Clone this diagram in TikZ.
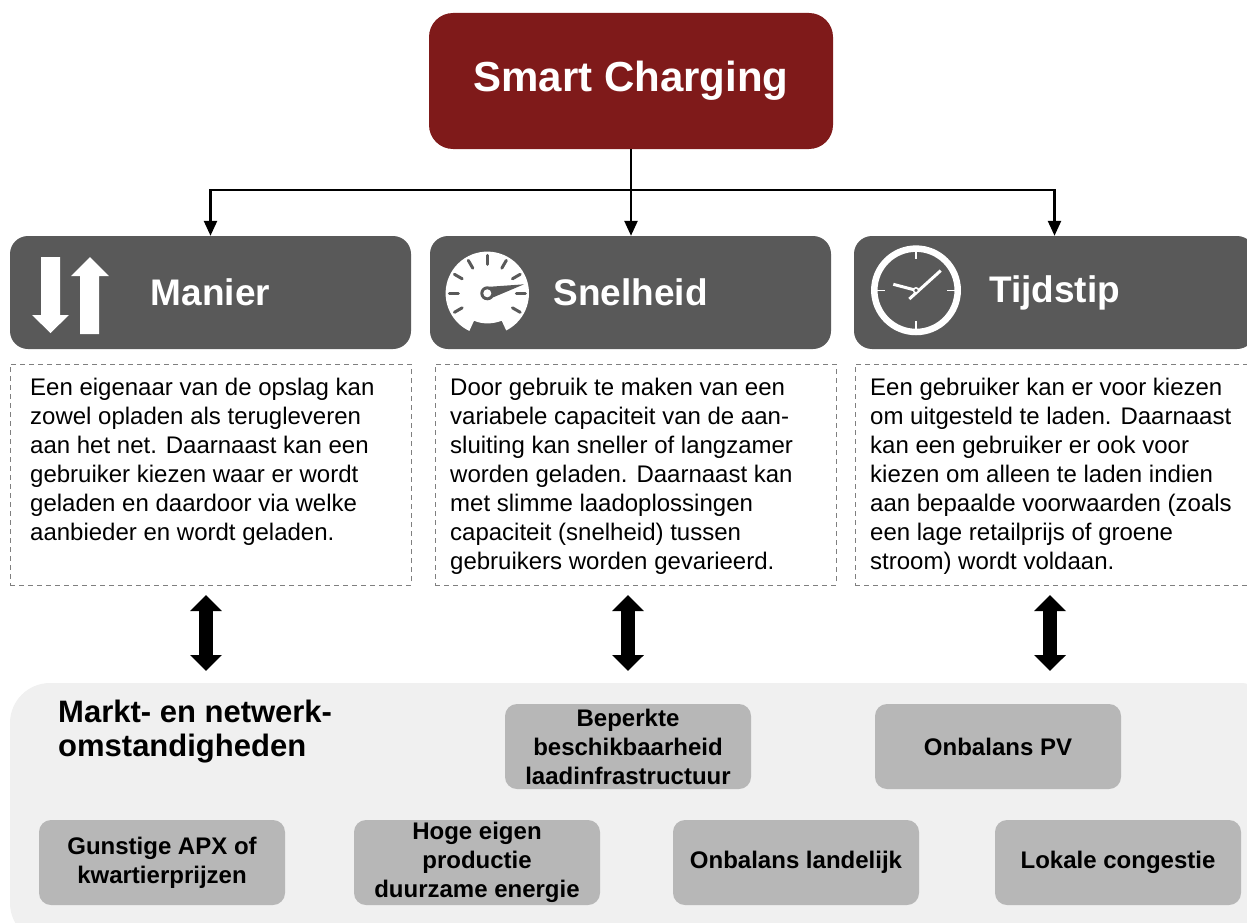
\documentclass[tikz,border=0pt]{standalone}
\usepackage{fontspec}
\setmainfont{Liberation Sans}
\usetikzlibrary{arrows.meta}
\definecolor{donkerrood}{HTML}{7F1A1A}
\definecolor{kopgrijs}{HTML}{595959}
\definecolor{lijngrijs}{HTML}{7F7F7F}
\definecolor{paneelgrijs}{HTML}{F0F0F0}
\definecolor{vakgrijs}{HTML}{B7B7B7}
\tikzset{
  hoofdvak/.style={fill=donkerrood, rounded corners=24pt, minimum width=404pt, minimum height=136pt,
    text=white, font=\fontsize{42}{50}\selectfont\bfseries},
  kopvak/.style={fill=kopgrijs, rounded corners=18pt, minimum width=401pt, minimum height=113pt,
    text=white, font=\fontsize{37}{44}\selectfont\bfseries},
  uitlegvak/.style={draw=lijngrijs, line width=1pt, dash pattern=on 5pt off 4pt, minimum width=401pt, minimum height=221pt},
  uitlegtekst/.style={anchor=north west, inner sep=0pt, align=left, font=\fontsize{24}{29}\selectfont},
  factorvak/.style={fill=vakgrijs, rounded corners=12pt, minimum width=246pt, minimum height=85pt,
    inner sep=0pt, align=center, font=\fontsize{24}{29}\selectfont\bfseries},
  tak/.style={line width=2.5pt, -{Triangle[width=13pt,length=15pt]}},
  dubbel/.style={line width=14pt, {Triangle[width=31pt,length=16pt]}-{Triangle[width=31pt,length=16pt]}}
}
\begin{document}
\begin{tikzpicture}[x=1pt, y=-1pt]
        \useasboundingbox (0,0) rectangle (1247,923);
        \clip (0,0) rectangle (1247,923);
        % Top box
        \node[hoofdvak] (titel) at (631,81) {Smart Charging};
        % Header boxes
        \foreach \naam/\x/\tekst in {manier/210.5/Manier, snelheid/630.5/Snelheid, tijdstip/1054.5/Tijdstip} {
            \node[kopvak] (\naam) at (\x,292.5) {\tekst};
        }
        % Connectors from the top box
        \coordinate (splitsing) at (titel.south |- 0,190);
        \draw[line width=2.5pt] (titel.south) -- (splitsing);
        \draw[tak] (splitsing) -| (manier.north);
        \draw[tak] (splitsing) -| (tijdstip.north);
        \draw[tak] (titel.south) -- (titel.south |- snelheid.north);
        % Dashed boxes and their texts
        \node[uitlegvak] (manieruitleg) at (210.5,474.5) {};
        \node[uitlegvak] (snelheiduitleg) at (635.5,474.5) {};
        \node[uitlegvak] (tijdstipuitleg) at (1055.5,474.5) {};
        \node[uitlegtekst] (manierinhoud) at (30,378) {Een eigenaar van de opslag kan\\zowel opladen als terugleveren\\aan het net. Daarnaast kan een\\gebruiker kiezen waar er wordt\\geladen en daardoor via welke\\aanbieder en wordt geladen.};
        \node[uitlegtekst] (snelheidinhoud) at (450,378) {Door gebruik te maken van een\\variabele capaciteit van de aan-\\sluiting kan sneller of langzamer\\worden geladen. Daarnaast kan\\met slimme laadoplossingen\\capaciteit (snelheid) tussen\\gebruikers worden gevarieerd.};
        \node[uitlegtekst] (tijdstipinhoud) at (870,378) {Een gebruiker kan er voor kiezen\\om uitgesteld te laden. Daarnaast\\kan een gebruiker er ook voor\\kiezen om alleen te laden indien\\aan bepaalde voorwaarden (zoals\\een lage retailprijs of groene\\stroom) wordt voldaan.};
        % Bottom panel
        \node[fill=paneelgrijs, rounded corners=40pt, minimum width=1270pt, minimum height=260pt] (paneel) at (645,813) {};
        \node[anchor=north west, inner sep=0pt, align=left, font=\fontsize{31}{34}\selectfont\bfseries] (paneeltitel) at (58,700) {Markt- en netwerk-\\omstandigheden};
        \foreach \naam/\x/\y/\tekst in {beperkt/628/746.5/{Beperkte\\beschikbaarheid\\laadinfrastructuur},
            onbalanspv/998/746.5/{Onbalans PV},
            apx/162/862.5/{Gunstige APX of\\kwartierprijzen},
            productie/477/862.5/{Hoge eigen\\productie\\duurzame energie},
            landelijk/796/862.5/{Onbalans landelijk},
            congestie/1118/862.5/{Lokale congestie}} {
            \node[factorvak] (\naam) at (\x,\y) {\tekst};
        }
        % Double arrows
        \foreach \naam/\x in {a/206, b/628, c/1050} {
            \coordinate (boven\naam) at (\x,595);
            \coordinate (onder\naam) at (\x,671);
            \draw[dubbel] (boven\naam) -- (onder\naam);
        }
        % Arrows icon
        \fill[white] (41,257) -- (60,257) -- (60,315) -- (69,315) -- (50.5,333) -- (32,315) -- (41,315) -- cycle;
        \fill[white] (80,334) -- (99,334) -- (99,276) -- (109,276) -- (90,257) -- (71,276) -- (80,276) -- cycle;
        % Gauge icon
        \begin{scope}[shift={(487.3,293.3)}, x=1pt, y=1pt]
            \fill[white] (297:41.7) arc[start angle=297, end angle=604.5, radius=41.7]
                -- (-13.3,-27.4) .. controls (-5,-31) and (5,-31) .. (14.4,-27.4) -- cycle;
            \foreach \hoek in {-30,0,...,210} {
                \ifnum\hoek=30 \else
                \draw[kopgrijs, line width=3pt, line cap=round] (\hoek:29) -- (\hoek:38);
                \fi
            }
            \draw[kopgrijs, line width=3pt, line cap=round] (30:29) -- (30:38);
            \fill[kopgrijs] (2,6.5) -- (36.7,9) -- (6,-4) -- cycle;
            \fill[kopgrijs] (0,0) circle (7);
            \fill[white] (0,0) circle (4);
        \end{scope}
        % Clock icon
        \begin{scope}[shift={(916,290.3)}, x=1pt, y=1pt]
            \draw[white, line width=6.5pt] (0,0) circle (41.7);
            \foreach \hoek in {0,90,180,270} {
                \draw[white, line width=1.5pt] (\hoek:39) -- (\hoek:31);
            }
            \draw[white, line width=3pt] (-22.7,6) -- (0,0);
            \draw[white, line width=3pt] (24.7,19.7) -- (-6.7,-8.7);
            \draw[white, line width=1.5pt, fill=kopgrijs] (0,0) circle (2.5);
        \end{scope}
    \end{tikzpicture}
\end{document}
